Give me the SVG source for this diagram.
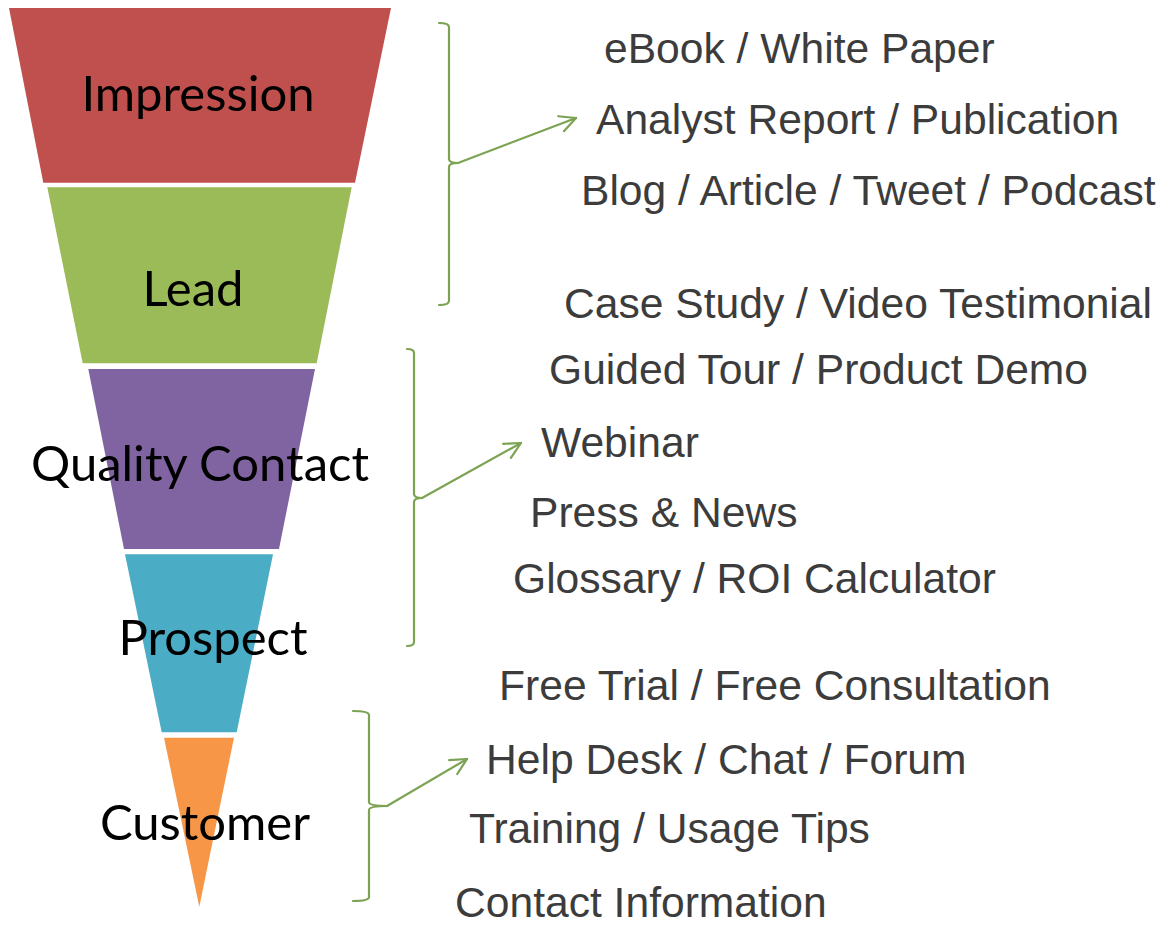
<svg xmlns="http://www.w3.org/2000/svg" width="1163" height="926" viewBox="0 0 1163 926">
  <style>
    .stage { font-family: Lato, "Noto Sans", sans-serif; font-size: 49px; fill: #000; text-anchor: middle; }
    .item { font-family: "Liberation Sans", Arial, sans-serif; font-size: 42.6px; fill: #3c3c3c; }
    .brace { fill: none; stroke: #7BA353; stroke-width: 2.2; stroke-linejoin: round; stroke-linecap: round; }
  </style>
  <defs>
    <marker id="openArrow" viewBox="0 0 20 20" refX="18" refY="10" markerWidth="20" markerHeight="20" markerUnits="userSpaceOnUse" orient="auto">
      <path d="M2,2 L18,10 L2,18" fill="none" stroke="#7BA353" stroke-width="2.2" stroke-linecap="round" stroke-linejoin="round"/>
    </marker>
  </defs>
  <rect width="1163" height="926" fill="#ffffff"/>

  <!-- funnel stages -->
  <g id="stage-impression">
    <polygon points="9,8 391,8 355,182.7 43.3,182.7" fill="#C0504D"/>
    <text class="stage" x="198" y="111">Impression</text>
  </g>
  <g id="stage-lead">
    <polygon points="47.3,187.3 351.7,187.3 316.7,363.3 82.7,363.3" fill="#9BBB59"/>
    <text class="stage" x="193" y="306">Lead</text>
  </g>
  <g id="stage-quality-contact">
    <polygon points="88.3,369 315,369 279,549 124,549" fill="#8064A2"/>
    <text class="stage" x="200" y="481">Quality Contact</text>
  </g>
  <g id="stage-prospect">
    <polygon points="125,554.3 273,554.3 236.7,732.3 161.7,732.3" fill="#4BACC6"/>
    <text class="stage" x="213" y="655">Prospect</text>
  </g>
  <g id="stage-customer">
    <polygon points="164,737.7 234,737.7 199.3,906.7" fill="#F79646"/>
    <text class="stage" x="205" y="840">Customer</text>
  </g>

  <!-- content lists -->
  <g id="content-awareness">
    <text class="item" x="604" y="63">eBook / White Paper</text>
    <text class="item" x="596" y="134">Analyst Report / Publication</text>
    <text class="item" x="581" y="205">Blog / Article / Tweet / Podcast</text>
    <text class="item" x="564" y="318">Case Study / Video Testimonial</text>
  </g>
  <g id="content-consideration">
    <text class="item" x="549" y="384">Guided Tour / Product Demo</text>
    <text class="item" x="541" y="457">Webinar</text>
    <text class="item" x="530" y="527">Press &amp; News</text>
    <text class="item" x="513" y="593">Glossary / ROI Calculator</text>
  </g>
  <g id="content-conversion">
    <text class="item" x="499" y="700">Free Trial / Free Consultation</text>
    <text class="item" x="486" y="774">Help Desk / Chat / Forum</text>
    <text class="item" x="469" y="843">Training / Usage Tips</text>
    <text class="item" x="455" y="917">Contact Information</text>
  </g>

  <!-- braces and arrows -->
  <g id="connectors">
    <path class="brace" d="M439,23 Q449,23 449,27 L449,159 Q449,163 458,163 Q449,163 449,167 L449,301 Q449,305 439,305"/>
    <path class="brace" d="M458,163 L576,118" marker-end="url(#openArrow)"/>
    <path class="brace" d="M407,349 Q414,349 414,353 L414,494 Q414,498 422,498 Q414,498 414,502 L414,642 Q414,646 407,646"/>
    <path class="brace" d="M422,498 L521,443" marker-end="url(#openArrow)"/>
    <path class="brace" d="M353,711 Q369,711 369,715 L369,802 Q369,806 387,806 Q369,806 369,810 L369,897 Q369,901 353,901"/>
    <path class="brace" d="M387,806 L467,759" marker-end="url(#openArrow)"/>
  </g>
</svg>
